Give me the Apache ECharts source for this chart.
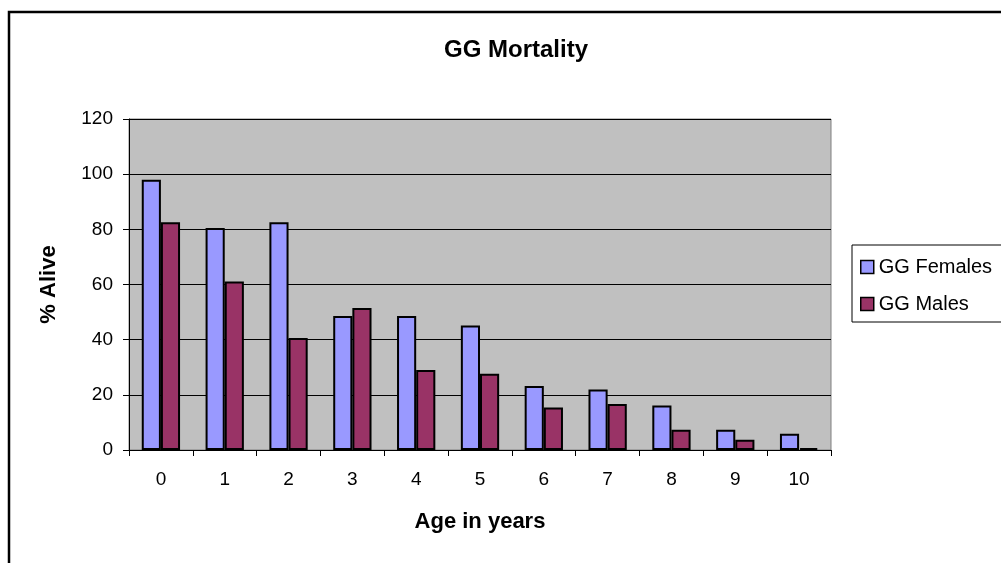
<!DOCTYPE html>
<html>
<head>
<meta charset="utf-8">
<script src="https://cdn.jsdelivr.net/npm/echarts@6/dist/echarts.min.js"></script>
<style>
  html, body { margin: 0; padding: 0; background: #fff; }
  #chart { width: 1001px; height: 563px; }
</style>
</head>
<body>
<div id="chart"></div>
<script>
// ages (years)
const ages = ['0', '1', '2', '3', '4', '5', '6', '7', '8', '9', '10']
// % alive
const females = [98.0, 80.5, 82.6, 48.6, 48.6, 45.1, 23.2, 21.9, 16.1, 7.3, 5.9]
const males = [82.6, 61.1, 40.6, 51.5, 29.0, 27.6, 15.4, 16.7, 7.3, 3.7, 0.7]

const font = 'Liberation Sans, Arial, sans-serif'

const chart = echarts.init(document.getElementById('chart'), null, { renderer: 'canvas' })

const barStyle = color => ({ color: color, borderColor: '#000', borderWidth: 2 })

chart.setOption({
  animation: false,
  backgroundColor: '#fff',
  textStyle: { fontFamily: font, color: '#000' },
  graphic: [{
    type: 'rect',
    shape: { x: 9, y: 12, width: 1100, height: 700 },
    style: { fill: 'none', stroke: '#000', lineWidth: 2.5 },
    z: 100
  }],
  title: {
    text: 'GG Mortality',
    left: 511,
    top: 33,
    textAlign: 'center',
    textStyle: { fontFamily: font, fontSize: 24, fontWeight: 'bold', color: '#000' }
  },
  legend: {
    orient: 'vertical',
    left: 852,
    top: 245,
    width: 150,
    padding: [12, 30, 8, 8],
    itemGap: 17,
    itemWidth: 13,
    itemHeight: 13,
    backgroundColor: '#fff',
    borderColor: '#000',
    borderWidth: 1,
    borderRadius: 0,
    icon: 'rect',
    itemStyle: { borderColor: '#000', borderWidth: 1.5 },
    textStyle: { fontFamily: font, fontSize: 20, color: '#000' },
    data: ['GG Females', 'GG Males']
  },
  grid: {
    left: 129,
    top: 119,
    width: 702,
    height: 331,
    show: true,
    backgroundColor: '#c0c0c0',
    borderColor: '#808080',
    borderWidth: 1,
    containLabel: false
  },
  xAxis: {
    type: 'category',
    data: ages,
    name: 'Age in years',
    nameLocation: 'middle',
    nameGap: 61,
    nameTextStyle: { fontFamily: font, fontSize: 22, fontWeight: 'bold', color: '#000' },
    axisLine: { lineStyle: { color: '#000', width: 1 } },
    axisTick: { show: true, length: 6, lineStyle: { color: '#000' } },
    axisLabel: { fontFamily: font, fontSize: 19, color: '#000', margin: 20 },
    splitLine: { show: false }
  },
  yAxis: {
    type: 'value',
    min: 0,
    max: 120,
    interval: 20,
    name: '% Alive',
    nameLocation: 'middle',
    nameGap: 69,
    nameTextStyle: { fontFamily: font, fontSize: 22, fontWeight: 'bold', color: '#000' },
    axisLine: { show: true, lineStyle: { color: '#000', width: 1 } },
    axisTick: { show: true, length: 6, lineStyle: { color: '#000' } },
    axisLabel: { fontFamily: font, fontSize: 19, color: '#000', margin: 16 },
    splitLine: { show: true, lineStyle: { color: '#000', width: 1 } }
  },
  series: [
    {
      name: 'GG Females',
      type: 'bar',
      data: females,
      barGap: '0%',
      barCategoryGap: '40%',
      itemStyle: barStyle('#9999ff')
    },
    {
      name: 'GG Males',
      type: 'bar',
      data: males,
      barGap: '0%',
      barCategoryGap: '40%',
      itemStyle: barStyle('#993366')
    }
  ]
})
</script>
</body>
</html>
